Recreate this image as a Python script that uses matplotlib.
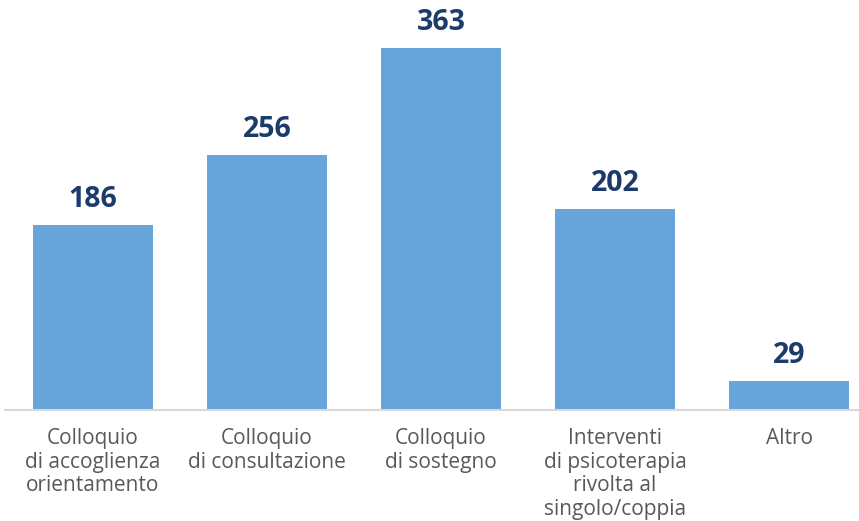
import matplotlib
matplotlib.use("Agg")
import matplotlib.pyplot as plt

categories = ["Colloquio\ndi accoglienza\norientamento",
              "Colloquio\ndi consultazione",
              "Colloquio\ndi sostegno",
              "Interventi\ndi psicoterapia\nrivolta al\nsingolo/coppia",
              "Altro"]
values = [186, 256, 363, 202, 29]

bar_color = "#66A4DA"
label_color = "#1B3B6A"
text_color = "#595959"

fig = plt.figure(figsize=(8.59, 5.21), dpi=100)
ax = fig.add_axes([5/859, 111/521, 854/859, 410/521])
x = list(range(len(values)))
bars = ax.bar(x, values, width=0.69, color=bar_color, zorder=2)
ax.set_xlim(-0.506, 4.402)
ax.set_ylim(0, 411.5)
for xi, v in zip(x, values):
    ax.annotate(str(v), (xi, v), xytext=(0, 8), textcoords="offset points",
                ha="center", va="bottom", fontsize=20.5, fontweight="bold",
                color=label_color, family=["Open Sans", "DejaVu Sans"])
ax.set_xticks(x)
ax.set_xticklabels(categories, fontsize=15, color=text_color,
                   family=["Open Sans", "DejaVu Sans"], linespacing=1.17)
ax.tick_params(axis="x", length=0, pad=13)
ax.set_yticks([])
for s in ["top", "left", "right"]:
    ax.spines[s].set_visible(False)
ax.spines["bottom"].set_color("#D9D9D9")
ax.spines["bottom"].set_linewidth(1.5)
fig.savefig("out.png", dpi=100)
